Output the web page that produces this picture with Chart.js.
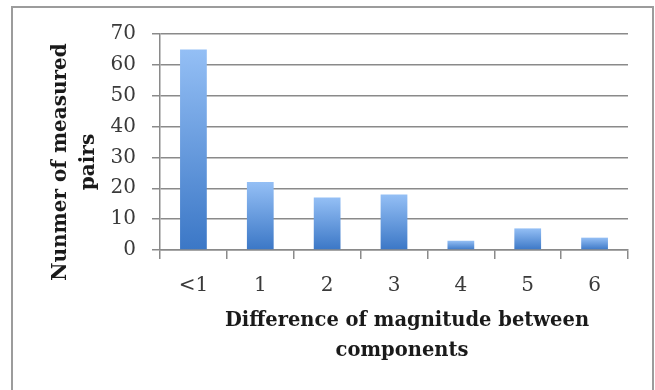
<!DOCTYPE html>
<html>
<head>
<meta charset="utf-8">
<script src="https://cdn.jsdelivr.net/npm/chart.js@4.4.1/dist/chart.umd.min.js"></script>
<style>
  html, body { margin: 0; padding: 0; background: #fff; overflow: hidden; }
  #wrap { position: relative; width: 655px; height: 390px; }
  #frame {
    position: absolute; left: 11px; top: 6px; width: 643px; height: 420px;
    border: 2px solid #9c9c9c; box-sizing: border-box;
  }
  #chart { position: absolute; left: 0; top: 0; }
</style>
</head>
<body>
<div id="wrap">
  <div id="frame"></div>
  <canvas id="chart" width="655" height="390"></canvas>
</div>
<script>
// Data
const categories = ['<1', '1', '2', '3', '4', '5', '6'];
const pairCounts = [65, 22, 17, 18, 3, 7, 4];
const yTicks = [0, 10, 20, 30, 40, 50, 60, 70];

const xTitle = ['Difference of magnitude between', 'components'];
const yTitle = ['Nunmer of measured', 'pairs'];

const gridColor = '#8a8a8a';
const tickFont = { family: 'DejaVu Serif', size: 20 };

// Each bar gets its own light-to-dark gradient, like the Excel fill
function barGradient(context) {
  const chart = context.chart;
  if (!chart.chartArea || context.raw == null) return '#5b8fd8';
  const y = chart.scales.y;
  const top = y.getPixelForValue(context.raw);
  const bottom = y.getPixelForValue(0);
  const g = chart.ctx.createLinearGradient(0, top, 0, bottom);
  g.addColorStop(0, '#94bff5');
  g.addColorStop(1, '#3b77c6');
  return g;
}

// Axis titles, placed where the Excel chart puts them
const axisTitles = {
  id: 'axisTitles',
  afterDraw(chart) {
    const ctx = chart.ctx;
    ctx.save();
    ctx.fillStyle = '#1a1a1a';
    ctx.textAlign = 'center';
    ctx.textBaseline = 'middle';

    // x title, two lines under the tick labels
    ctx.font = 'bold 19.5px "DejaVu Serif"';
    ctx.fillText(xTitle[0], 407, 321);
    ctx.fillText(xTitle[1], 402, 351);

    // y title, rotated, two lines left of the ticks
    ctx.font = 'bold 20px "DejaVu Serif"';
    ctx.translate(0, 162);
    ctx.rotate(-Math.PI / 2);
    ctx.fillText(yTitle[0], 0, 61);
    ctx.fillText(yTitle[1], 0, 89);
    ctx.restore();
  }
};

const ctx = document.getElementById('chart').getContext('2d');
const chart = new Chart(ctx, {
  type: 'bar',
  data: {
    labels: categories,
    datasets: [{
      label: 'Measured pairs',
      data: pairCounts,
      backgroundColor: barGradient,
      borderWidth: 0,
      categoryPercentage: 0.4,
      barPercentage: 1
    }]
  },
  options: {
    responsive: false,
    animation: false,
    layout: {
      padding: { left: 0, top: 34, right: 27, bottom: 0 }
    },
    scales: {
      x: {
        afterFit: function(scale) { scale.height = 140; },
        grid: {
          offset: true,
          drawOnChartArea: false,
          drawTicks: true,
          tickLength: 9,
          color: gridColor,
          lineWidth: 1.5
        },
        border: { display: true, color: gridColor, width: 1.5 },
        ticks: {
          color: '#3a3a3a',
          font: tickFont,
          padding: 15
        }
      },
      y: {
        min: 0,
        max: 70,
        afterFit: function(scale) { scale.width = 160; },
        afterBuildTicks: function(scale) {
          scale.ticks = yTicks.map(v => ({ value: v }));
        },
        grid: {
          color: gridColor,
          lineWidth: 1.5,
          drawTicks: true,
          tickLength: 8
        },
        border: { display: true, color: gridColor, width: 1.5 },
        ticks: {
          color: '#3a3a3a',
          font: tickFont,
          padding: 16
        }
      }
    },
    plugins: {
      legend: { display: false },
      title: { display: false },
      tooltip: { enabled: false }
    }
  },
  plugins: [axisTitles]
});
</script>
</body>
</html>
